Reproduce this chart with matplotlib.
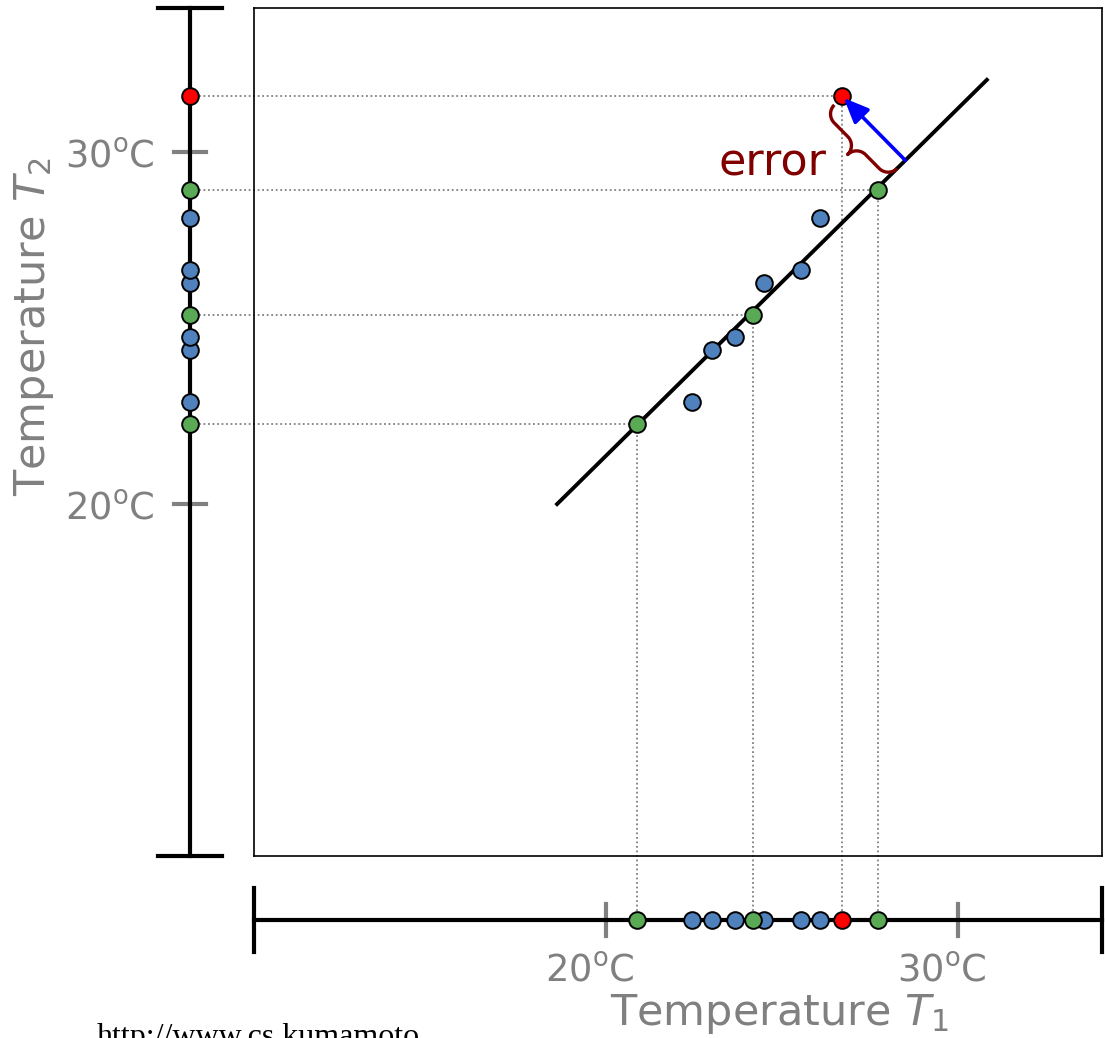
import numpy as np
import matplotlib
matplotlib.use("Agg")
import matplotlib.pyplot as plt
from matplotlib.patches import FancyArrowPatch

plt.rcParams["mathtext.fontset"] = "custom"
plt.rcParams["mathtext.rm"] = "DejaVu Sans"
plt.rcParams["mathtext.it"] = "DejaVu Sans:italic"
plt.rcParams["mathtext.bf"] = "DejaVu Sans:bold"

# Measurements: (T1, T2) pairs
blue_t1 = [22.44, 23.01, 23.66, 24.49, 25.54, 26.08]
blue_t2 = [22.90, 24.38, 24.74, 26.28, 26.65, 28.13]
green_t1 = [20.88, 24.18, 27.73]
green_t2 = [22.27, 25.37, 28.92]
red_t1 = [26.70]
red_t2 = [31.59]

# Fitted relation T2 = slope * T1 + intercept
fit_slope = 0.987
fit_intercept = 1.63
fit_t1_range = [18.61, 30.82]

tick_values = [20, 30]
tick_labels = [r"20$^{\mathrm{o}}$C", r"30$^{\mathrm{o}}$C"]

BLUE = "#4F81BD"
GREEN = "#5AAA55"
RED = "#FF0000"
DARKRED = "#800000"
GRAY = "#808080"

W, H = 1105, 1038
fig = plt.figure(figsize=(W / 100, H / 100), dpi=100)
ax = fig.add_axes([254 / W, (H - 856) / H, 848 / W, 848 / H])
lo, hi = 10.0, 10.0 + 848 / 35.2
ax.set_xlim(lo, hi)
ax.set_ylim(lo, hi)
ax.set_xticks([])
ax.set_yticks([])
for s in ax.spines.values():
    s.set_linewidth(1.2)

off = lo - 64 / 35.2        # position of the detached 1-D axes
cap = 32 / 35.2              # half length of the end caps
tk = 16 / 35.2               # half length of the ticks
kw = dict(clip_on=False)

# detached vertical axis (T2) and horizontal axis (T1)
ax.plot([off, off], [lo, hi], color="black", lw=3.0, zorder=3, **kw)
for yv in (lo, hi):
    ax.plot([off - cap, off + cap], [yv, yv], color="black", lw=3.0, zorder=3, **kw)
ax.plot([lo, hi], [off, off], color="black", lw=3.0, zorder=3, **kw)
for xv in (lo, hi):
    ax.plot([xv, xv], [off - cap, off + cap], color="black", lw=3.0, zorder=3, **kw)
for v in tick_values:
    ax.plot([off - tk, off + tk], [v, v], color=GRAY, lw=3.0, zorder=2.5, **kw)
    ax.plot([v, v], [off - tk, off + tk], color=GRAY, lw=3.0, zorder=2.5, **kw)

# tick labels
for v, lab in zip(tick_values, tick_labels):
    ax.text(off - 35 / 35.2, v - 15 / 35.2, lab, ha="right", va="baseline",
            fontsize=26.5, color=GRAY, **kw)
    ax.text(v - 61 / 35.2, off - 62 / 35.2, lab, ha="left", va="baseline",
            fontsize=26.5, color=GRAY, **kw)

# axis titles
ax.text(20.11, 5.20, r"Temperature $\mathit{T_1}$", ha="left", va="baseline",
        fontsize=31, color=GRAY, **kw)
ax.text(4.06, 20.23, r"Temperature $\mathit{T_2}$", ha="left", va="baseline",
        rotation=90, rotation_mode="anchor", fontsize=31, color=GRAY, **kw)

# projection guides for highlighted samples
for x, y in zip(green_t1 + red_t1, green_t2 + red_t2):
    ax.plot([off, x], [y, y], color=GRAY, lw=1.3, ls=(0, (1, 1.5)), zorder=1, **kw)
    ax.plot([x, x], [off, y], color=GRAY, lw=1.3, ls=(0, (1, 1.5)), zorder=1, **kw)

# fitted line
fx = np.array(fit_t1_range)
ax.plot(fx, fit_slope * fx + fit_intercept, color="black", lw=2.8, zorder=4)

mk = dict(marker="o", ms=12, mec="black", mew=1.4, ls="none", **kw)
for xs, ys, c in ((blue_t1, blue_t2, BLUE), (green_t1, green_t2, GREEN), (red_t1, red_t2, RED)):
    ax.plot(xs, ys, mfc=c, zorder=5, **mk)
    ax.plot([off] * len(ys), ys, mfc=c, zorder=5, **mk)
    ax.plot(xs, [off] * len(xs), mfc=c, zorder=5, **mk)

# residual of the red sample: perpendicular to the fitted line
px, py = red_t1[0], red_t2[0]
norm = np.hypot(fit_slope, 1.0)
d = (py - fit_slope * px - fit_intercept) / norm
nvec = np.array([-fit_slope, 1.0]) / norm
foot = np.array([px, py]) - d * nvec
arrow = FancyArrowPatch(foot, (px, py), arrowstyle="-|>,head_length=0.75,head_width=0.32",
                        mutation_scale=20, color="blue", lw=2.6, zorder=6,
                        shrinkA=0, shrinkB=2)
ax.add_patch(arrow)


def brace_path(length, r, n=30):
    """Curly brace in local (along, across) coordinates: hooks at both ends,
    straight runs and a pointed middle, total depth 2*r."""
    a = np.linspace(0, np.pi / 2, n)
    # start hook: from (0,0) heading across, turning to run along at depth r
    s1 = r - r * np.cos(a)
    v1 = r * np.sin(a)
    # into the tip: from (L/2 - r, r) turning to head across to (L/2, 2r)
    s2 = length / 2 - r + r * np.sin(a)
    v2 = r + r - r * np.cos(a)
    s_half = np.concatenate([s1, s2])
    v_half = np.concatenate([v1, v2])
    s = np.concatenate([s_half, length - s_half[::-1]])
    v = np.concatenate([v_half, v_half[::-1]])
    return s, v


# curly brace beside the residual
along = np.array([px, py]) - foot
L = np.hypot(*along)
u = along / L
perp = np.array([-u[1], u[0]])
if perp[0] > 0:
    perp = -perp
start_gap, end_gap = 0.0, 0.03
seg = L - start_gap - end_gap
bs, bv = brace_path(seg, 0.36)
base = 0.33
bx = foot[0] + (start_gap + bs) * u[0] + (base + bv) * perp[0]
by = foot[1] + (start_gap + bs) * u[1] + (base + bv) * perp[1]
ax.plot(bx, by, color=DARKRED, lw=2.4, zorder=6, solid_capstyle="butt",
        solid_joinstyle="round")

ax.text(24.72, 29.32, "error", ha="center", va="baseline", fontsize=32,
        color=DARKRED, zorder=7)

fig.text(97 / W, (H - 1045) / H, "http://www.cs.kumamoto", ha="left", va="baseline",
         fontsize=23, family="Liberation Serif", color="black")

fig.savefig("out.png", dpi=100)
